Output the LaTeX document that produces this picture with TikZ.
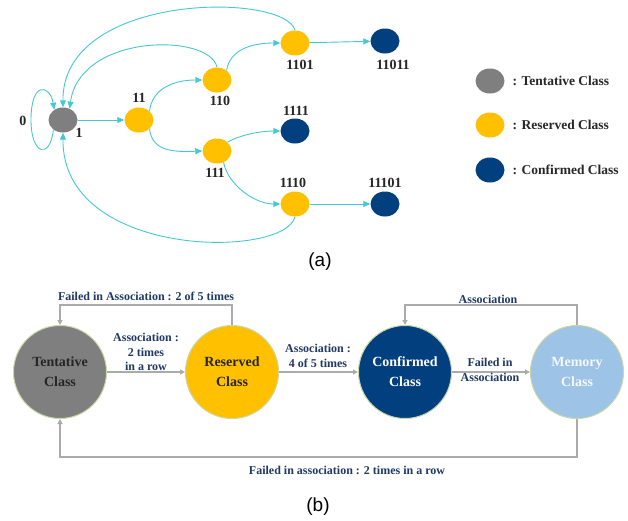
\documentclass[tikz,border=0pt]{standalone}
\usepackage{fontspec}
\setmainfont{Liberation Serif}
\setsansfont{Liberation Sans}
\usetikzlibrary{arrows.meta,shapes.geometric}

\definecolor{tentgray}{HTML}{7F7F7F}
\definecolor{resyellow}{HTML}{FFC000}
\definecolor{confblue}{HTML}{023F7F}
\definecolor{memblue}{HTML}{9DC3E6}
\definecolor{edgecyan}{HTML}{45C8D0}
\definecolor{labnavy}{HTML}{1F3864}
\definecolor{linegray}{HTML}{ABABAB}
\definecolor{rimgreen}{HTML}{C9D8A6}

\tikzset{
  estado/.style={ellipse, inner sep=0pt, minimum width=29pt, minimum height=25pt},
  tent/.style={estado, fill=tentgray},
  resv/.style={estado, fill=resyellow},
  conf/.style={estado, fill=confblue},
  num/.style={font=\fontsize{14}{16}\selectfont\bfseries, text=black!85},
  leyenda/.style={anchor=west, font=\fontsize{13.5}{16}\selectfont\bfseries, text=black!85},
  flecha/.style={edgecyan, line width=0.9pt, -{Triangle[length=7pt,width=6pt]}},
  clase/.style={circle, minimum size=93pt, inner sep=0pt, draw=rimgreen, line width=1pt,
    align=center, font=\fontsize{14}{20}\selectfont\bfseries},
  linea/.style={linegray, line width=1.2pt, -{Triangle[length=5pt,width=5pt]}},
  etiq/.style={align=center, text=labnavy, font=\fontsize{12}{14.5}\selectfont\bfseries},
  titulo/.style={font=\sffamily\fontsize{19}{21}\selectfont}
}

\begin{document}
\begin{tikzpicture}[x=1pt, y=-1pt]
  \useasboundingbox (0,0) rectangle (628,520);
  % (a) estados
  \node[tent] (t) at (63,120) {};
  \node[resv] (r11) at (139,120) {};
  \node[resv] (r110) at (217,80) {};
  \node[resv] (r111) at (217,151) {};
  \node[resv] (r1101) at (295,43) {};
  \node[resv] (r1110) at (295,204) {};
  \node[conf] (c11011) at (385,41) {};
  \node[conf] (c1111) at (295,131) {};
  \node[conf] (c11101) at (385,204) {};
  % (a) etiquetas
  \node[num] (l0) at (23,121) {0};
  \node[num] (l1) at (79,133) {1};
  \node[num] (l11) at (139,98) {11};
  \node[num] (l110) at (220,101) {110};
  \node[num] (l111) at (215,173) {111};
  \node[num] (l1101) at (300,65) {1101};
  \node[num] (l11011) at (393,65) {11011};
  \node[num] (l1111) at (296,111) {1111};
  \node[num] (l1110) at (293,183) {1110};
  \node[num] (l11101) at (385,183) {11101};
  % (a) transiciones
  \draw[flecha] (t) -- (r11);
  \draw[flecha] (r11.40) .. controls (152,88) and (175,80) .. (r110.west);
  \draw[flecha] (r11.-40) .. controls (152,152) and (175,152) .. (r111.west);
  \draw[flecha] (r110.45) .. controls (230,48) and (255,43) .. (r1101.west);
  \draw[flecha] (r111.40) .. controls (240,135) and (260,131) .. (c1111.west);
  \draw[flecha] (r111.-60) .. controls (228,185) and (255,204) .. (r1110.west);
  \draw[flecha] (r1101) -- (c11011);
  \draw[flecha] (r1110) -- (c11101);
  % (a) regreso a Tentative
  \draw[flecha] (r1101.north) .. controls (285,-8) and (62,-8) .. (t.north);
  \draw[flecha] (r110.north) .. controls (210,33) and (80,33) .. (t.60);
  \draw[flecha] (r1110.south) .. controls (285,259) and (62,259) .. (t.south);
  \draw[flecha] (t.225) .. controls (50,160) and (31,155) .. (31,120)
    .. controls (31,80) and (50,85) .. (t.130);
  % (a) leyenda
  \node[tent] (lt) at (490,81) {};
  \node[leyenda] (ltx) at (509,81) {: Tentative Class};
  \node[resv] (lr) at (490,125) {};
  \node[leyenda] (lrx) at (509,125) {: Reserved Class};
  \node[conf] (lc) at (490,170) {};
  \node[leyenda] (lcx) at (509,170) {: Confirmed Class};
  \node[titulo] (ta) at (320,262) {(a)};
  % (b) clases
  \node[clase, fill=tentgray, text=black!85] (tent) at (60,372) {Tentative\\Class};
  \node[clase, fill=resyellow, text=black!85] (resv) at (232,372) {Reserved\\Class};
  \node[clase, fill=confblue, text=white] (conf) at (405,372) {Confirmed\\Class};
  \node[clase, fill=memblue, text=white!90!memblue] (mem) at (577,372) {Memory\\Class};
  % (b) transiciones
  \draw[linea] (tent) -- (resv);
  \draw[linea] (resv) -- (conf);
  \draw[linea] (conf) -- (mem);
  \draw[linea] (resv.north) -- ++(0,-20) -| (tent.north);
  \draw[linea] (mem.north) -- ++(0,-20) -| (conf.north);
  \draw[linea] (mem.south) -- ++(0,38) -| (tent.south);
  % (b) etiquetas
  \node[etiq] (e1) at (146,296) {Failed in Association : 2 of 5 times};
  \node[etiq] (e2) at (146,352) {Association :\\2 times\\in a row};
  \node[etiq] (e3) at (318,356) {Association :\\4 of 5 times};
  \node[etiq] (e4) at (490,370) {Failed in\\Association};
  \node[etiq] (e5) at (488,299) {Association};
  \node[etiq] (e6) at (347,470) {Failed in association : 2 times in a row};
  \node[titulo] (tb) at (318,507) {(b)};
\end{tikzpicture}
\end{document}
